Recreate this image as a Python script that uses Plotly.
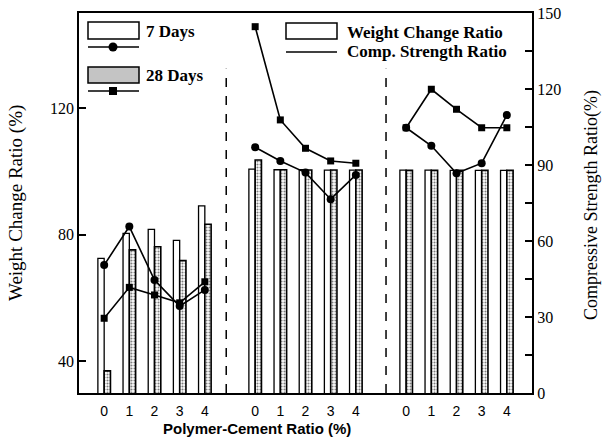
import plotly.graph_objects as go

# ---- data ----
ratio_labels = ["0", "1", "2", "3", "4"]
group_offsets = [0, 6, 12]          # three test series along the x axis

wc_7d = [72.5, 80.4, 81.7, 78.2, 89.1,
         100.7, 100.5, 100.5, 100.4, 100.4,
         100.4, 100.4, 100.3, 100.3, 100.3]
wc_28d = [37.0, 75.2, 76.2, 71.8, 83.3,
          103.6, 100.5, 100.4, 100.4, 100.4,
          100.3, 100.3, 100.3, 100.3, 100.3]

cs_7d = [[50.5, 65.7, 44.6, 34.3, 40.7],
         [97.0, 91.6, 87.0, 76.5, 86.1],
         [104.7, 97.6, 86.7, 90.7, 109.7]]
cs_28d = [[29.5, 41.7, 38.7, 35.6, 43.9],
          [144.6, 107.8, 96.6, 91.6, 90.7],
          [104.7, 119.9, 112.0, 104.7, 104.7]]

wc_ticks = [40, 80, 120]
cs_ticks = [0, 30, 60, 90, 120, 150]
divider_x = [4.85, 11.2]

# ---- derived positions ----
xs = [g + i for g in group_offsets for i in range(5)]
ticktext = ratio_labels * len(group_offsets)

def with_gaps(groups):
    xx, yy = [], []
    for g, vals in zip(group_offsets, groups):
        xx += [g + i for i in range(5)] + [None]
        yy += list(vals) + [None]
    return xx, yy

SERIF = "Liberation Serif, Times New Roman, serif"
SANS = "Liberation Sans, Arial, sans-serif"

fig = go.Figure()
fig.add_trace(go.Bar(x=xs, y=wc_7d, name="7 Days",
                     marker=dict(color="white", line=dict(color="black", width=1.3))))
fig.add_trace(go.Bar(x=xs, y=wc_28d, name="28 Days",
                     marker=dict(color="white", line=dict(color="black", width=1.6),
                                 pattern=dict(shape=".", fgcolor="black", size=3, solidity=0.4))))

x7, y7 = with_gaps(cs_7d)
x28, y28 = with_gaps(cs_28d)
fig.add_trace(go.Scatter(x=x7, y=y7, yaxis="y2", mode="lines+markers", name="7 Days CS",
                         line=dict(color="black", width=1.6),
                         marker=dict(symbol="circle", size=8, color="black")))
fig.add_trace(go.Scatter(x=x28, y=y28, yaxis="y2", mode="lines+markers", name="28 Days CS",
                         line=dict(color="black", width=1.6),
                         marker=dict(symbol="square", size=7, color="black")))

shapes = []
for dx in divider_x:
    shapes.append(dict(type="line", xref="x", yref="y2", x0=dx, x1=dx, y0=0, y1=128,
                       line=dict(color="black", width=1.5, dash="dash")))

# legend decorations (paper coords)
def px2paper(px, py):
    return (px - 79) / 453, (393 - py) / 380

def rect(x0, y0, x1, y1, fill="white"):
    a, b = px2paper(x0, y0)
    c, d = px2paper(x1, y1)
    shapes.append(dict(type="rect", xref="paper", yref="paper", x0=a, y0=d, x1=c, y1=b,
                       fillcolor=fill, line=dict(color="black", width=1.5)))

def hline(x0, x1, y):
    a, b = px2paper(x0, y)
    c, _ = px2paper(x1, y)
    shapes.append(dict(type="line", xref="paper", yref="paper", x0=a, x1=c, y0=b, y1=b,
                       line=dict(color="black", width=1.5)))

def marker_shape(kind, cx, cy, r):
    a, b = px2paper(cx - r, cy + r)
    c, d = px2paper(cx + r, cy - r)
    shapes.append(dict(type="circle" if kind == "circle" else "rect", xref="paper", yref="paper",
                       x0=a, y0=b, x1=c, y1=d, fillcolor="black", line=dict(color="black", width=0)))

rect(88, 22, 139, 39)
hline(88, 139, 47)
marker_shape("circle", 113, 47, 4.5)
rect(88, 67, 139, 83, fill="#c4c4c4")
hline(88, 139, 91)
marker_shape("square", 113, 91, 4)
rect(286, 23, 337, 39)
hline(286, 337, 52)

annotations = []
def label(text, px, py, size=17, family=SERIF, angle=0, anchor="left"):
    a, b = px2paper(px, py)
    annotations.append(dict(text=text, xref="paper", yref="paper", x=a, y=b,
                            xanchor=anchor, yanchor="middle", showarrow=False, textangle=angle,
                            font=dict(family=family, size=size, color="black")))

label("<b>7 Days</b>", 144, 31)
label("<b>28 Days</b>", 144, 76)
label("<b>Weight Change Ratio</b>", 345, 32)
label("<b>Comp. Strength Ratio</b>", 345, 52)
# axis titles
label("Weight Change Ratio (%)", 16, 203, size=19, angle=-90, anchor="center")
label("Compressive Strength Ratio(%)", 591, 205, size=18, angle=-90, anchor="center")
label("<b>Polymer-Cement Ratio (%)</b>", 257, 428, size=15, family=SANS, anchor="center")

fig.update_layout(
    width=608, height=438,
    margin=dict(l=79, r=76, t=13, b=45),
    paper_bgcolor="white", plot_bgcolor="white",
    barmode="group", bargap=0.5, bargroupgap=0.0,
    showlegend=False,
    shapes=shapes, annotations=annotations,
    xaxis=dict(range=[-1, 17], tickvals=xs, ticktext=ticktext, ticks="",
               showline=True, linecolor="black", linewidth=2, mirror=True,
               showgrid=False, zeroline=False, automargin=False, ticklabelstandoff=4,
               tickfont=dict(family=SANS, size=14, color="black")),
    yaxis=dict(range=[30, 150], tickvals=wc_ticks,
               ticks="inside", ticklen=7, tickwidth=1.5, tickcolor="black",
               showline=True, linecolor="black", linewidth=1.5,
               showgrid=False, zeroline=False, automargin=False,
               tickfont=dict(family=SERIF, size=16, color="black")),
    yaxis2=dict(range=[0, 150], overlaying="y", side="right",
                tickvals=cs_ticks,
                ticks="inside", ticklen=7, tickwidth=1.5, tickcolor="black",
                minor=dict(tickvals=[15, 45, 75, 105, 135], ticks="inside", ticklen=7,
                           tickwidth=1.5, tickcolor="black"),
                showline=True, linecolor="black", linewidth=2,
                showgrid=False, zeroline=False, automargin=False,
                tickfont=dict(family=SERIF, size=16, color="black")),
)

fig.write_html("out.html", config={"displayModeBar": False},
               post_script="document.body.style.margin='0px';")
